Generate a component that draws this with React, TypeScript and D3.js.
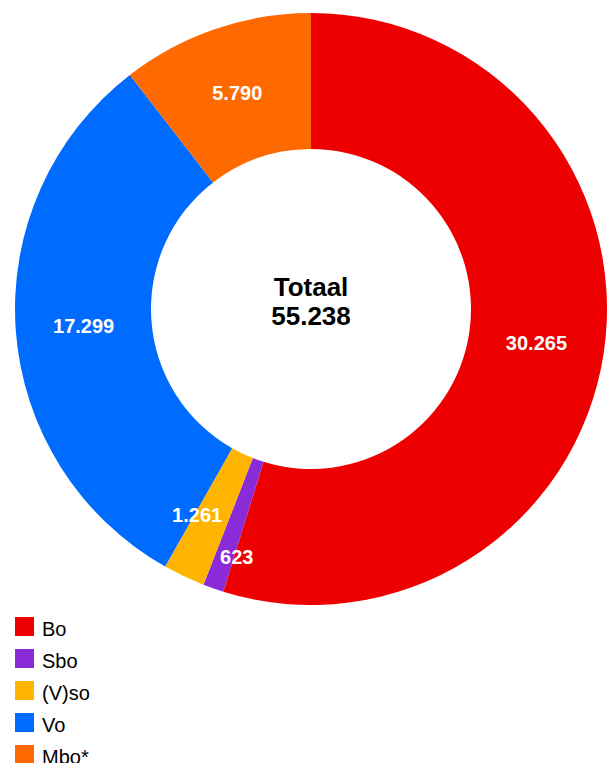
import React, { useEffect, useRef } from 'react';
import * as d3 from 'd3';

// data
const categories = ['Bo', 'Sbo', '(V)so', 'Vo', 'Mbo*'];
const values = [30265, 623, 1261, 17299, 5790];
const colors = ['#ee0000', '#8a2bd8', '#ffb400', '#006cff', '#ff6a00'];
const totalLabel = 'Totaal';

const fmt = (n: number) => d3.format(',')(n).replace(/,/g, '.');

const App = () => {
    const svgRef = useRef(null);

    useEffect(() => {
        const svg = d3.select(svgRef.current);
        svg.selectAll('*').remove();

        const cx = 311;
        const cy = 309;
        const outer = 296;
        const inner = 160;
        const font = '"Liberation Sans", Arial, Helvetica, sans-serif';

        const pie = d3.pie<number>().sort(null).value(d => d);
        const arcs = pie(values);
        const arc = d3.arc<d3.PieArcDatum<number>>().innerRadius(inner).outerRadius(outer);

        const g = svg.append('g').attr('transform', `translate(${cx},${cy})`);

        g.selectAll('path')
            .data(arcs)
            .join('path')
            .attr('d', arc)
            .attr('fill', (d, i) => colors[i]);

        // kleine segmenten: label iets verschuiven zodat ze niet overlappen
        const nudge: Record<number, [number, number]> = { 1: [1, 33], 2: [-16, 0] };

        g.selectAll('text.lbl')
            .data(arcs)
            .join('text')
            .attr('class', 'lbl')
            .attr('transform', (d, i) => {
                const [x, y] = arc.centroid(d);
                const [dx, dy] = nudge[i] || [0, 0];
                return `translate(${x + dx},${y + dy})`;
            })
            .attr('text-anchor', 'middle')
            .attr('dy', '0.36em')
            .attr('fill', '#fff')
            .attr('font-family', font)
            .attr('font-weight', 'bold')
            .attr('font-size', 20)
            .text(d => fmt(d.data));

        const total = d3.sum(values);
        g.append('text')
            .attr('text-anchor', 'middle')
            .attr('y', -13)
            .attr('font-family', font)
            .attr('font-weight', 'bold')
            .attr('font-size', 26)
            .attr('fill', '#000')
            .text(totalLabel);
        g.append('text')
            .attr('text-anchor', 'middle')
            .attr('y', 16)
            .attr('font-family', font)
            .attr('font-weight', 'bold')
            .attr('font-size', 26)
            .attr('fill', '#000')
            .text(fmt(total));

        // legenda
        const legendY = d3.scaleBand().domain(categories).range([617, 777]);
        const legend = svg.append('g');
        const items = legend.selectAll('g')
            .data(categories)
            .join('g')
            .attr('transform', d => `translate(15,${legendY(d)})`);
        items.append('rect')
            .attr('width', 19)
            .attr('height', 19)
            .attr('fill', (d, i) => colors[i]);
        items.append('text')
            .attr('x', 27)
            .attr('y', 19)
            .attr('font-family', font)
            .attr('font-size', 20)
            .attr('fill', '#000')
            .text(d => d);
    }, []);

    return (
        <svg ref={svgRef} width={607} height={763}
             style={{ position: 'absolute', left: 0, top: 0, display: 'block' }} />
    );
};

export default App;
